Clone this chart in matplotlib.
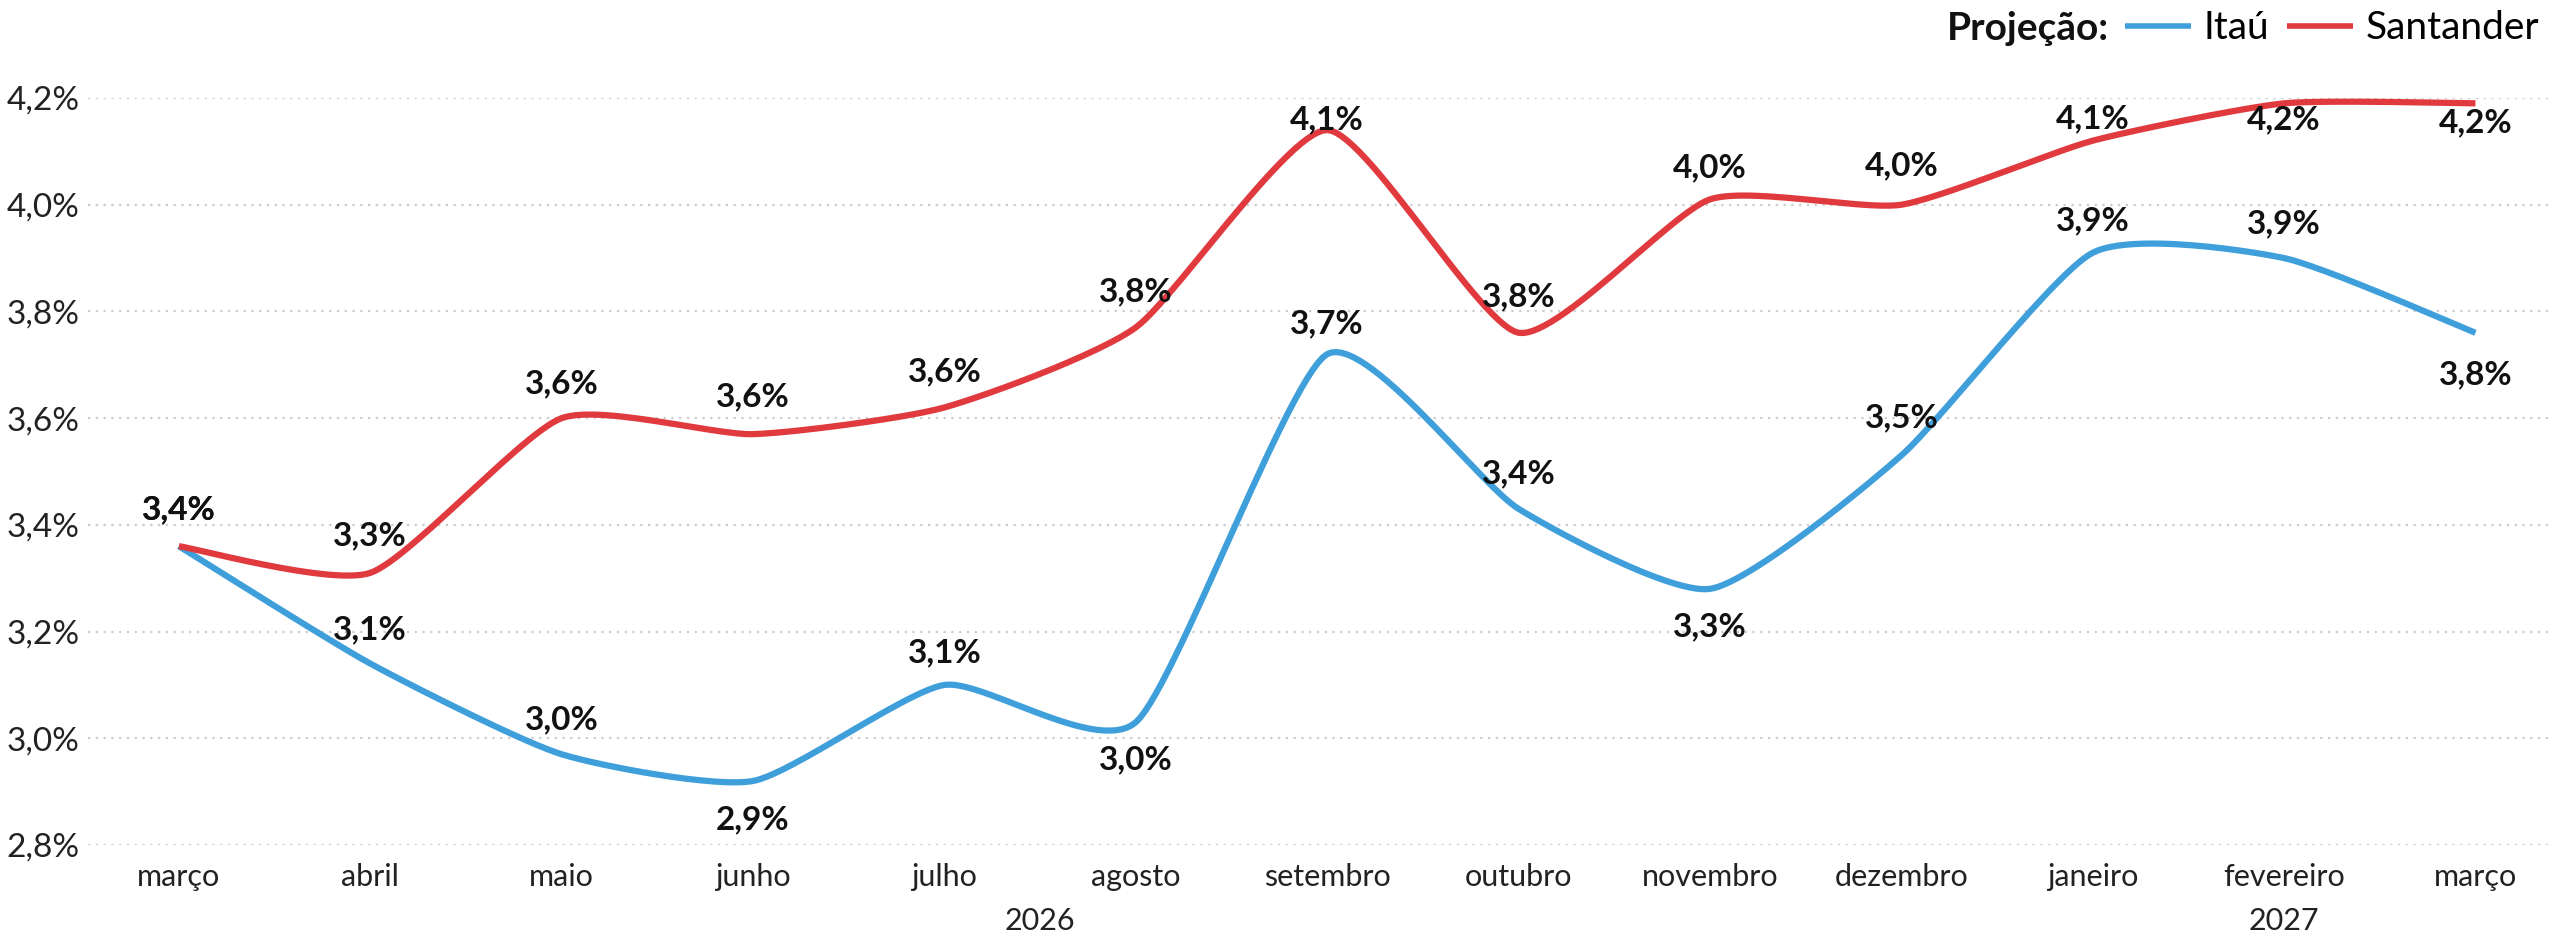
import matplotlib
matplotlib.use("Agg")
import matplotlib.pyplot as plt
import numpy as np

#------------------------------------#
#               DONNEES              #
#------------------------------------#
months = ['março', 'abril', 'maio', 'junho', 'julho', 'agosto', 'setembro',
          'outubro', 'novembro', 'dezembro', 'janeiro', 'fevereiro', 'março']
years = ['2026', '2027']
year_first_idx = [0, 10]
year_last_idx = [9, 12]

itau = [3.36, 3.14, 2.97, 2.92, 3.10, 3.03, 3.72, 3.43, 3.28, 3.53, 3.91, 3.90, 3.76]
santander = [3.36, 3.31, 3.60, 3.57, 3.62, 3.77, 4.14, 3.76, 4.01, 4.00, 4.12, 4.19, 4.19]

yticks = [2.8, 3.0, 3.2, 3.4, 3.6, 3.8, 4.0, 4.2]

# decalage vertical des etiquettes (points), + = au-dessus
offs_itau = [26, 24, 25, -28, 23, -27, 22, 25, -27, 27, 23, 25, -30]
offs_sant = [26, 27, 25, 27, 26, 26, 7, 26, 23, 28, 16, -12, -14]

blue = '#3e9fdb'
red = '#e03a3e'

plt.rcParams['font.family'] = ['Lato', 'DejaVu Sans']


def smooth(x, y, n=30, k=10.0):
    # courbe lissee type Excel (Bezier, tension reduite)
    p = np.column_stack([x, y]).astype(float)
    p = np.vstack([p[0], p, p[-1]])
    t = np.linspace(0, 1, n)[:, None]
    out = []
    for i in range(1, len(p) - 2):
        p0, p1, p2, p3 = p[i - 1], p[i], p[i + 1], p[i + 2]
        c1 = p1 + (p2 - p0) / k
        c2 = p2 - (p3 - p1) / k
        seg = ((1 - t) ** 3) * p1 + 3 * ((1 - t) ** 2) * t * c1 + 3 * (1 - t) * t ** 2 * c2 + t ** 3 * p2
        out.append(seg if i == 1 else seg[1:])
    out = np.vstack(out)
    return out[:, 0], out[:, 1]


def fmt(v):
    return ('%.1f' % v).replace('.', ',') + '%'


fig = plt.figure(figsize=(25.52, 9.41), dpi=100)
ax = fig.add_axes([88 / 2552, 96 / 941, 1 - 88 / 2552, (845 - 98) / 941])

x = np.arange(len(months))
for vals, col, lab in [(itau, blue, 'Itaú'), (santander, red, 'Santander')]:
    sx, sy = smooth(x, vals)
    ax.plot(sx, sy, color=col, lw=4.5, label=lab, clip_on=False, solid_capstyle='butt', zorder=3)

for vals, offs in [(itau, offs_itau), (santander, offs_sant)]:
    for i, v in enumerate(vals):
        ax.annotate(fmt(v), (i, v), xytext=(0, offs[i]), textcoords='offset points',
                    ha='center', va='center', fontsize=24, fontweight='bold',
                    color='#111111', zorder=4, annotation_clip=False)

ax.set_xlim(-0.475, 12.40)
ax.set_ylim(2.8, 4.2)
ax.set_yticks(yticks)
ax.set_yticklabels([fmt(v) for v in yticks], fontsize=24, color='#222222')
ax.set_xticks(x)
ax.set_xticklabels(months, fontsize=22, color='#222222')
ax.tick_params(length=0, axis='y', pad=6)
ax.tick_params(length=0, axis='x', pad=13)
ax.grid(axis='y', color='#cccccc', linestyle=(0, (1, 2.5)), lw=1.6)
ax.set_axisbelow(True)
for s in ax.spines.values():
    s.set_visible(False)

for yr, a, b in zip(years, year_first_idx, year_last_idx):
    ax.annotate(yr, ((a + b) / 2, 0), xycoords=('data', 'axes fraction'),
                xytext=(0, -55), textcoords='offset points',
                ha='center', va='center', fontsize=22, color='#222222',
                annotation_clip=False)

leg = fig.legend(loc='center right', bbox_to_anchor=(0.995, 0.970), ncol=2,
                 frameon=False, fontsize=28, handlelength=1.7, handletextpad=0.33,
                 columnspacing=0.45, borderpad=0, borderaxespad=0)
for h in leg.get_lines():
    h.set_linewidth(4)
fig.canvas.draw()
bb = leg.get_window_extent().transformed(fig.transFigure.inverted())
fig.text(bb.x0 - 0.006, 0.970, 'Projeção:', ha='right', va='center',
         fontsize=28, fontweight='bold', color='#111111')

fig.savefig('out.png', dpi=100)
